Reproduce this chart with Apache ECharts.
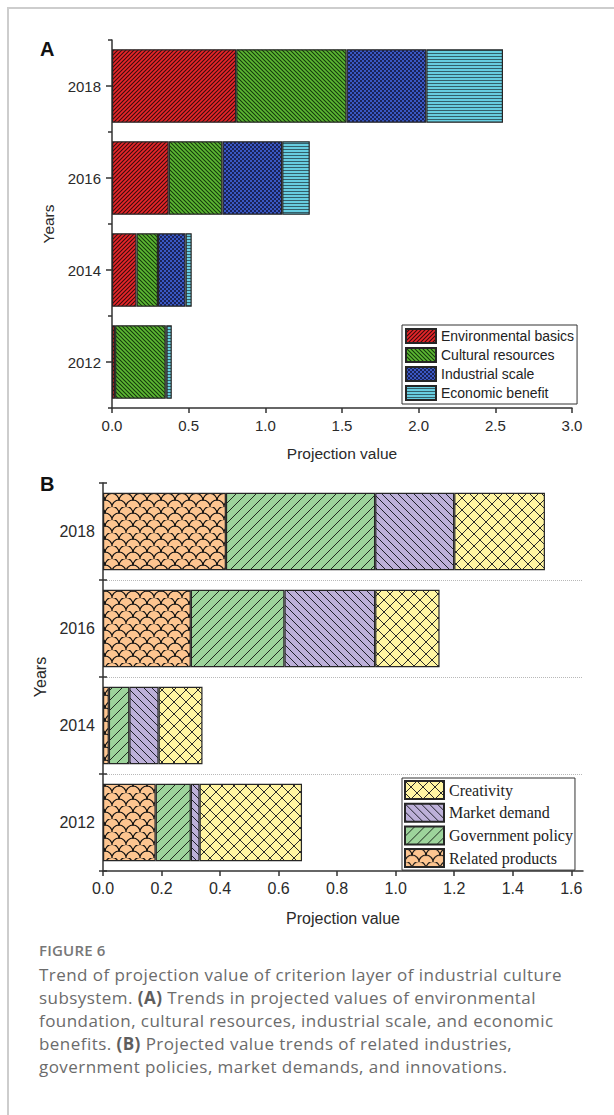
<!DOCTYPE html>
<html>
<head>
<meta charset="utf-8">
<script src="https://cdn.jsdelivr.net/npm/echarts@6/dist/echarts.min.js"></script>
<style>
  html, body { margin: 0; padding: 0; background: #fff; }
  #page { position: relative; width: 614px; height: 1115px; overflow: hidden; }
  #frame { position: absolute; left: 7px; top: 7px; width: 620px; height: 1120px;
           border-top: 2px solid #cdcdcd; border-left: 2px solid #cdcdcd; }
  #chart { position: absolute; left: 0; top: 0; width: 614px; height: 935px; }
  #cap { position: absolute; left: 39px; top: 939px; width: 575px;
         font-family: 'Open Sans', sans-serif; color: #6b6b6b; }
  #cap .fig { font-size: 15px; font-weight: 600; letter-spacing: 0.2px; color: #777; line-height: 22px; }
  #cap .txt { margin-top: 2px; font-size: 17px; letter-spacing: 0.45px; line-height: 23px; }
  #cap b { font-weight: 700; color: #5e5e5e; }
</style>
</head>
<body>
<div id="page">
  <div id="frame"></div>
  <div id="chart"></div>
  <div id="cap">
    <div class="fig">FIGURE 6</div>
    <div class="txt">Trend of projection value of criterion layer of industrial culture<br>subsystem. <b>(A)</b> Trends in projected values of environmental<br>foundation, cultural resources, industrial scale, and economic<br>benefits. <b>(B)</b> Projected value trends of related industries,<br>government policies, market demands, and innovations.</div>
  </div>
</div>
<script>
// Years on the vertical axes (bottom to top)
const years = ['2012', '2014', '2016', '2018'];

// Panel A: projection values of the four criteria, stacked per year
const envBasics       = [0.02, 0.16, 0.37, 0.81];
const culturalRes     = [0.33, 0.14, 0.35, 0.72];
const industrialScale = [0.005, 0.18, 0.39, 0.52];
const economicBenefit = [0.035, 0.04, 0.18, 0.50];

// Panel B: projection values of the four criteria, stacked per year
const relatedProducts  = [0.18, 0.02, 0.30, 0.42];
const governmentPolicy = [0.12, 0.07, 0.32, 0.51];
const marketDemand     = [0.03, 0.10, 0.31, 0.27];
const creativity       = [0.35, 0.15, 0.22, 0.31];

// Tick values on the horizontal axes
const ticksA = [0, 0.5, 1.0, 1.5, 2.0, 2.5, 3.0];
const ticksB = [0, 0.2, 0.4, 0.6, 0.8, 1.0, 1.2, 1.4, 1.6];

// --- fill textures for the bars ---
function tile(w, h, draw) {
  const c = document.createElement('canvas');
  c.width = w; c.height = h;
  const g = c.getContext('2d');
  draw(g, w, h);
  return { image: c, repeat: 'repeat', imageWidth: w, imageHeight: h };
}
function diag(bg, fg, s, lw, rising) {
  return tile(s, s, (g, w, h) => {
    g.fillStyle = bg; g.fillRect(0, 0, w, h);
    g.strokeStyle = fg; g.lineWidth = lw;
    g.beginPath();
    for (let k = -1; k <= 1; k++) {
      if (rising) { g.moveTo(k * s - 1, s + 1); g.lineTo(k * s + s + 1, -1); }
      else { g.moveTo(k * s - 1, -1); g.lineTo(k * s + s + 1, s + 1); }
    }
    g.stroke();
  });
}
const fillEnv = diag('#e8262a', '#3a0c0c', 4, 1.1, true);
const fillCul = diag('#5db833', '#163a0c', 4, 1.1, false);
const fillInd = tile(4, 4, (g) => {
  g.fillStyle = '#3a58c4'; g.fillRect(0, 0, 4, 4);
  g.fillStyle = '#1a2358'; g.fillRect(0, 0, 2, 2); g.fillRect(2, 2, 2, 2);
});
const fillEco = tile(4, 3, (g) => {
  g.fillStyle = '#67cde0'; g.fillRect(0, 0, 4, 3);
  g.fillStyle = '#33606b'; g.fillRect(0, 2, 4, 1);
});
const fillRel = tile(14, 13, (g) => {
  g.fillStyle = '#fdc590'; g.fillRect(0, 0, 14, 13);
  g.strokeStyle = '#111'; g.lineWidth = 1.2;
  g.beginPath(); g.arc(7, 13, 7, Math.PI, 2 * Math.PI); g.stroke();
  g.beginPath(); g.arc(0, 6.5, 7, Math.PI * 1.5, 2 * Math.PI); g.stroke();
  g.beginPath(); g.arc(14, 6.5, 7, Math.PI, Math.PI * 1.5); g.stroke();
});
const fillGov = diag('#9dd49b', '#1f2a1f', 10, 1, true);
const fillMkt = diag('#bdb0d9', '#1f1f2a', 8, 1, false);
const fillCre = tile(12, 12, (g) => {
  g.fillStyle = '#fff5a2'; g.fillRect(0, 0, 12, 12);
  g.strokeStyle = '#2a2a2a'; g.lineWidth = 1;
  g.beginPath();
  g.moveTo(-1, -1); g.lineTo(13, 13);
  g.moveTo(-1, 13); g.lineTo(13, -1);
  g.stroke();
});

const axisCol = '#333';
const sans = 'Liberation Sans';
const border = { borderColor: '#262626', borderWidth: 1.2 };
const lbl = (size) => ({ fontFamily: sans, fontSize: size, color: '#2a2a2a' });

function barSeries(name, data, fill, xi, yi, stack) {
  return {
    name: name, type: 'bar', stack: stack, data: data,
    xAxisIndex: xi, yAxisIndex: yi, barCategoryGap: '20%',
    itemStyle: Object.assign({ color: fill }, border),
    emphasis: { disabled: true }
  };
}

const chart = echarts.init(document.getElementById('chart'), null, { renderer: 'svg' });
chart.setOption({
  animation: false,
  textStyle: { fontFamily: sans },
  grid: [
    { left: 112, top: 40, width: 460, height: 368 },
    { left: 103, top: 483, width: 480, height: 388 }
  ],
  xAxis: [
    {
      gridIndex: 0, type: 'value', min: 0, max: 3,
      axisLine: { show: true, lineStyle: { color: axisCol, width: 1.5 } },
      axisTick: { show: true, length: 5, customValues: ticksA, lineStyle: { color: axisCol, width: 1.5 } },
      axisLabel: Object.assign({ customValues: ticksA, margin: 10,
                   formatter: v => v.toFixed(1) }, lbl(15)),
      splitLine: { show: false },
      name: 'Projection value', nameLocation: 'middle', nameGap: 37,
      nameTextStyle: lbl(15.5)
    },
    {
      gridIndex: 1, type: 'value', min: 0, max: 1.64,
      axisLine: { show: true, lineStyle: { color: axisCol, width: 1.5 } },
      axisTick: { show: true, length: 5, customValues: ticksB, lineStyle: { color: axisCol, width: 1.5 } },
      axisLabel: Object.assign({ customValues: ticksB, margin: 9,
                   formatter: v => v.toFixed(1) }, lbl(16)),
      splitLine: { show: false },
      name: 'Projection value', nameLocation: 'middle', nameGap: 39,
      nameTextStyle: lbl(16)
    }
  ],
  yAxis: [
    {
      gridIndex: 0, type: 'category', data: years, position: 'left',
      axisLine: { show: true, lineStyle: { color: axisCol, width: 1.5 } },
      axisTick: { show: true, alignWithLabel: true, length: 6, lineStyle: { color: axisCol, width: 1.5 } },
      axisLabel: Object.assign({ margin: 11 }, lbl(15)),
      name: 'Years', nameLocation: 'middle', nameGap: 50,
      nameTextStyle: lbl(15.5)
    },
    {
      gridIndex: 0, type: 'category', data: years, position: 'left',
      axisLine: { show: false },
      axisTick: { show: true, alignWithLabel: false, length: 4, lineStyle: { color: axisCol, width: 1.5 } },
      axisLabel: { show: false }
    },
    {
      gridIndex: 1, type: 'category', data: years, position: 'left',
      axisLine: { show: true, lineStyle: { color: axisCol, width: 1.5 } },
      axisTick: { show: true, alignWithLabel: false, length: 4, lineStyle: { color: axisCol, width: 1.5 } },
      axisLabel: Object.assign({ margin: 8 }, lbl(16)),
      splitLine: { show: true, showMinLine: false, showMaxLine: false,
                   lineStyle: { type: 'dotted', color: '#b8b8b8', width: 1 } },
      name: 'Years', nameLocation: 'middle', nameGap: 52,
      nameTextStyle: lbl(16)
    },
    {
      gridIndex: 1, type: 'category', data: years, position: 'left',
      axisLine: { show: false },
      axisTick: { show: true, inside: true, alignWithLabel: false, length: 4, lineStyle: { color: axisCol, width: 1.5 } },
      axisLabel: { show: false }
    }
  ],
  legend: [
    {
      data: ['Environmental basics', 'Cultural resources', 'Industrial scale', 'Economic benefit'],
      orient: 'vertical', left: 402, top: 325, icon: 'rect',
      itemWidth: 30, itemHeight: 14, itemGap: 3, padding: 3,
      borderColor: '#333', borderWidth: 1, selectedMode: false,
      textStyle: { fontFamily: sans, fontSize: 14, color: '#222', lineHeight: 14 }
    },
    {
      data: ['Creativity', 'Market demand', 'Government policy', 'Related products'],
      orient: 'vertical', left: 402, top: 778, icon: 'rect',
      itemWidth: 39, itemHeight: 18, itemGap: 2.7, padding: 2,
      borderColor: '#333', borderWidth: 1, selectedMode: false,
      textStyle: { fontFamily: 'Liberation Serif', fontSize: 16, color: '#222', lineHeight: 18 }
    }
  ],
  graphic: [
    { type: 'text', left: 40, top: 39, style: { text: 'A', font: 'bold 20px "Liberation Sans"', fill: '#111' } },
    { type: 'text', left: 40, top: 474, style: { text: 'B', font: 'bold 20px "Liberation Sans"', fill: '#111' } }
  ],
  series: [
    barSeries('Environmental basics', envBasics, fillEnv, 0, 0, 'A'),
    barSeries('Cultural resources', culturalRes, fillCul, 0, 0, 'A'),
    barSeries('Industrial scale', industrialScale, fillInd, 0, 0, 'A'),
    barSeries('Economic benefit', economicBenefit, fillEco, 0, 0, 'A'),
    barSeries('Related products', relatedProducts, fillRel, 1, 2, 'B'),
    barSeries('Government policy', governmentPolicy, fillGov, 1, 2, 'B'),
    barSeries('Market demand', marketDemand, fillMkt, 1, 2, 'B'),
    barSeries('Creativity', creativity, fillCre, 1, 2, 'B')
  ]
});
</script>
</body>
</html>
